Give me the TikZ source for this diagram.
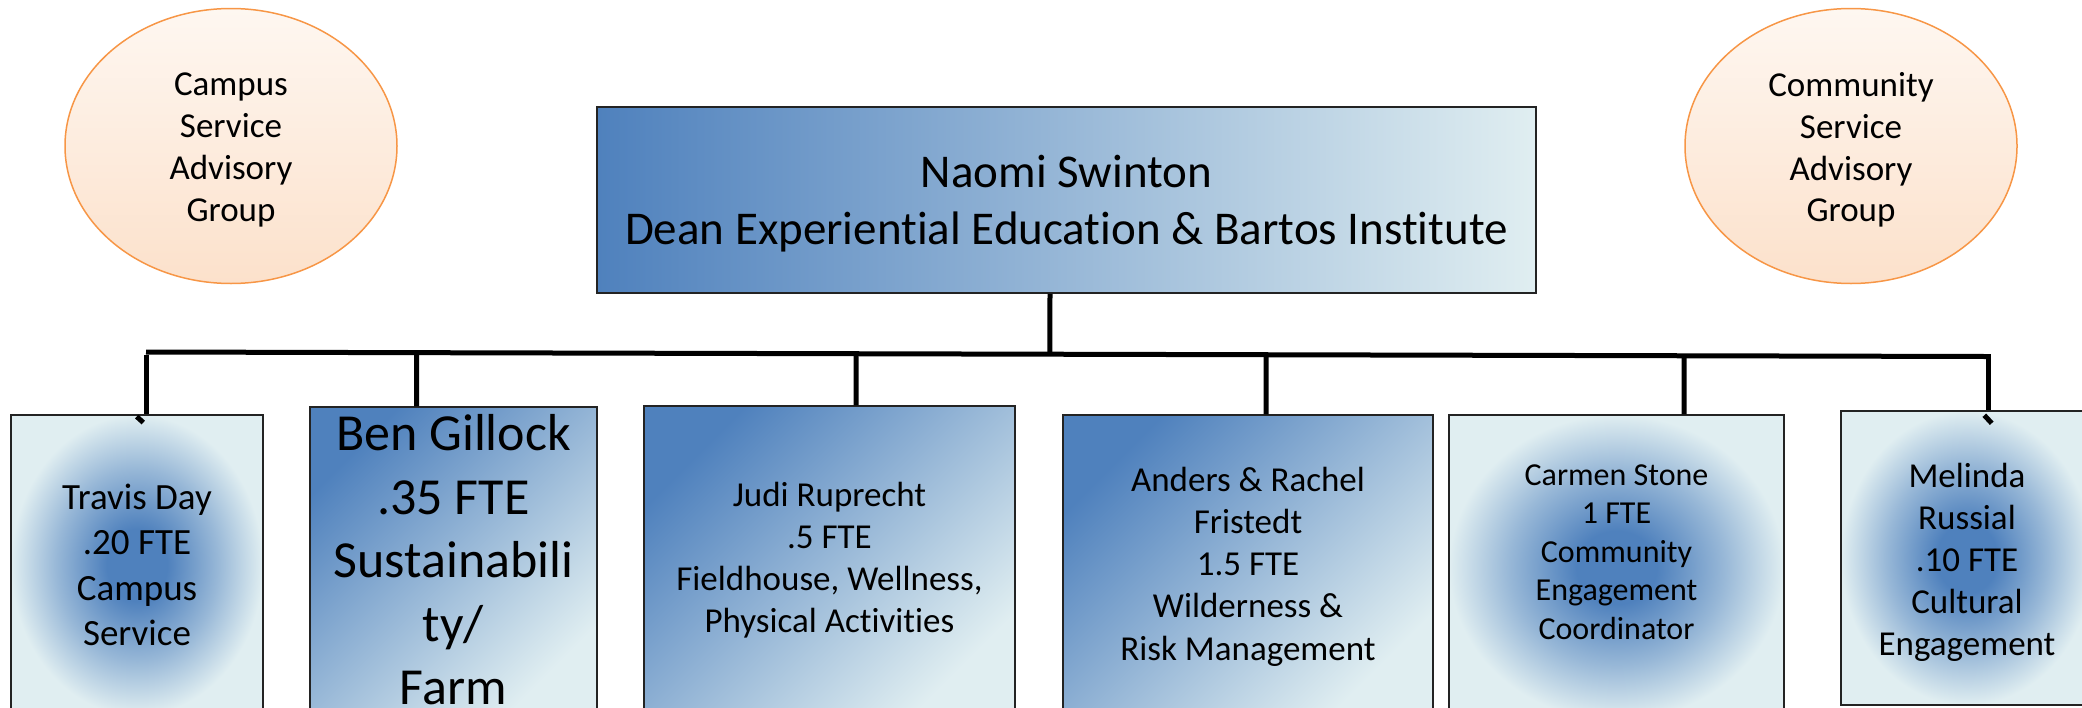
\documentclass[tikz,border=0pt]{standalone}
\usepackage{fontspec}
\setmainfont{Carlito}[Ligatures=NoCommon]
\usetikzlibrary{calc,shapes.geometric}

\definecolor{dkblue}{RGB}{79,129,189}
\definecolor{ltblue}{RGB}{224,238,241}
\definecolor{peachtop}{RGB}{254,247,241}
\definecolor{peachbot}{RGB}{252,225,203}
\definecolor{ringorange}{RGB}{247,150,70}
\definecolor{edgegray}{RGB}{35,35,35}

% centre-weighted blue glow, light at the inscribed ellipse
\pgfdeclareradialshading{glowshade}{\pgfpoint{0bp}{0bp}}{%
  color(0bp)=(dkblue); color(6bp)=(dkblue);
  color(16bp)=(dkblue!50!ltblue); color(25bp)=(ltblue); color(50bp)=(ltblue)}

\newcommand\chartsize[2]{\fontsize{#1}{#2}\selectfont}

\begin{document}
\begin{tikzpicture}[x=1pt,y=-1pt,
  advisory/.style={ellipse, draw=ringorange, line width=1.5pt,
    top color=peachtop, bottom color=peachbot,
    minimum width=332pt, minimum height=275pt, inner sep=0pt},
  staffbox/.style={rectangle, draw=edgegray, line width=1.5pt, inner sep=0pt},
  sweep/.style={top color=dkblue, bottom color=ltblue, shading angle=45},
  glow/.style={shade, shading=glowshade},
  caption/.style={align=center, inner sep=0pt},
  conn/.style={draw=black, line width=5pt},
]
\useasboundingbox (0,0) rectangle (2082,707);
\clip (0,0) rectangle (2082,707);

% advisory groups
\node[advisory] (campus) at (231,146) {};
\node[caption, font=\chartsize{35}{41.7}] (campus-text) at ([yshift=-4pt]campus.center)
  {Campus\\Service\\Advisory\\Group};
\node[advisory] (community) at (1851,146) {};
\node[caption, font=\chartsize{35}{41.7}] (community-text) at ([yshift=-4pt]community.center)
  {Community\\Service\\Advisory\\Group};

% dean
\node[staffbox, left color=dkblue, right color=ltblue,
      minimum width=939pt, minimum height=186pt] (dean) at (1066.5,200) {};
\node[caption, font=\chartsize{47}{57}] (dean-text) at ([yshift=-4pt]dean.center)
  {Naomi Swinton\\Dean Experiential Education \& Bartos Institute};

% staff
\node[staffbox, glow, minimum width=252pt, minimum height=300pt] (travis) at (137,565) {};
\node[caption, font=\chartsize{37}{45.5}] (travis-text) at (travis.center)
  {Travis Day\\.20 FTE\\Campus\\Service};

\node[staffbox, sweep, minimum width=287pt, minimum height=306pt] (ben) at (453.5,560) {};
\node[caption, font=\chartsize{52}{63.5}] (ben-text) at (ben.center)
  {Ben Gillock\\.35 FTE\\Sustainabili\\ty/\\Farm};

\node[staffbox, sweep, minimum width=371pt, minimum height=308pt] (judi) at (829.5,560) {};
\node[caption, font=\chartsize{35}{42}] (judi-text) at (judi.center)
  {Judi Ruprecht\\.5 FTE\\Fieldhouse, Wellness,\\Physical Activities};

\node[staffbox, sweep, minimum width=370pt, minimum height=297pt] (anders) at (1248,563.5) {};
\node[caption, font=\chartsize{35}{42.3}] (anders-text) at ([yshift=-3pt]anders.center)
  {Anders \& Rachel\\Fristedt\\1.5 FTE\\Wilderness \&\\Risk Management};

\node[staffbox, glow, minimum width=335pt, minimum height=305pt] (carmen) at (1616.5,567.5) {};
\node[caption, font=\chartsize{32}{38.5}] (carmen-text) at ([yshift=15.5pt]carmen.center)
  {Carmen Stone\\1 FTE\\Community\\Engagement\\Coordinator};

\node[staffbox, glow, minimum width=252pt, minimum height=294pt] (melinda) at (1967,558) {};
\node[caption, font=\chartsize{35}{42}] (melinda-text) at ([yshift=-4pt]melinda.center)
  {Melinda\\Russial\\.10 FTE\\Cultural\\Engagement};

% bus and drops
\coordinate (busL) at (146,352);
\coordinate (busR) at (1986,356.5);
\draw[conn] (busL) -- (busR);

\coordinate (deanFoot) at ([xshift=-16.5pt]dean.south);
\draw[conn] (deanFoot) -- ($(busL)!(deanFoot)!(busR)$);

\coordinate (benTop) at ([xshift=-37pt]ben.north);
\draw[conn] (benTop) -- ($(busL)!(benTop)!(busR)$);
\coordinate (judiTop) at ([xshift=26.5pt]judi.north);
\draw[conn] (judiTop) -- ($(busL)!(judiTop)!(busR)$);
\coordinate (andersTop) at ([xshift=18pt]anders.north);
\draw[conn] (andersTop) -- ($(busL)!(andersTop)!(busR)$);
\coordinate (carmenTop) at ([xshift=67.5pt]carmen.north);
\draw[conn] (carmenTop) -- ($(busL)!(carmenTop)!(busR)$);

% outer drops with their elbow stubs
\coordinate (travisTop) at (busL |- travis.north);
\draw[conn] ([yshift=-2.5pt]busL) -- (travisTop);
\draw[conn] ($(travisTop)+(-9.3,2.3)$) -- ++(6.6,6);

\coordinate (melindaTop) at ([xshift=2.5pt]busR |- melinda.north);
\draw[conn] ([xshift=2.5pt,yshift=2.5pt]busR) -- (melindaTop);
\draw[conn] ($(melindaTop)+(-4.2,5)$) -- ++(7.4,8);
\end{tikzpicture}
\end{document}
